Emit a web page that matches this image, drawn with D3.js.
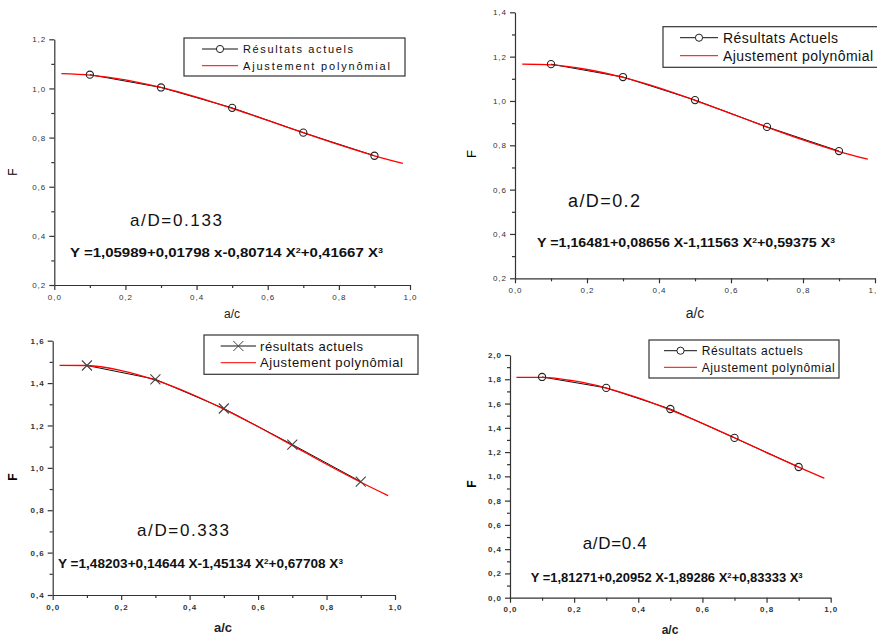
<!DOCTYPE html>
<html>
<head>
<meta charset="utf-8">
<script src="https://cdn.jsdelivr.net/npm/d3@7"></script>
<style>
	body { margin: 0; background: #fff; }
	svg { display: block; font-family: Arial, "Liberation Sans", sans-serif; }
</style>
</head>
<body>
<script>
// a/c positions of the computed points, same for all four cases
const xValues = [0.1, 0.3, 0.5, 0.7, 0.9];
// sample positions
const fitX = [0.02, 0.1, 0.2, 0.3, 0.4, 0.5, 0.6, 0.7, 0.8, 0.9, 0.98];

const caseLabels = ["a/D=0.133", "a/D=0.2", "a/D=0.333", "a/D=0.4"];
const legendResults = ["Résultats actuels", "Résultats Actuels", "résultats actuels", "Résultats actuels"];
const legendFit = "Ajustement polynômial";

// equation pieces: [text, exponent]
const equations = [
	[["Y =1,05989+0,01798 x-0,80714 X", "2"], ["+0,41667 X", "3"]],
	[["Y =1,16481+0,08656 X-1,11563 X", "2"], ["+0,59375 X", "3"]],
	[["Y =1,48203+0,14644 X-1,45134 X", "2"], ["+0,67708 X", "3"]],
	[["Y =1,81271+0,20952 X-1,89286 X", "2"], ["+0,83333 X", "3"]]
];

const results133 = [1.056, 1.004, 0.921, 0.820, 0.726];
const results200 = [1.166, 1.108, 1.004, 0.883, 0.774];
const results333 = [1.483, 1.418, 1.280, 1.110, 0.935];
const results400 = [1.819, 1.729, 1.555, 1.317, 1.077];

const fit133 = [1.060, 1.054, 1.035, 1.004, 0.965, 0.919, 0.870, 0.820, 0.771, 0.726, 0.695];
const fit200 = [1.166, 1.163, 1.142, 1.106, 1.059, 1.003, 0.943, 0.882, 0.824, 0.772, 0.737];
const fit333 = [1.484, 1.483, 1.459, 1.414, 1.352, 1.277, 1.194, 1.106, 1.017, 0.932, 0.869];
const fit400 = [1.816, 1.816, 1.786, 1.728, 1.647, 1.548, 1.437, 1.318, 1.196, 1.076, 0.984];

const yDomains = [[0.2, 1.2], [0.2, 1.4], [0.4, 1.6], [0.0, 2.0]];

// layout of each panel (pixels)
const panels = [
	{ res: results133, fit: fit133, x0: 54.3, x1: 410, yTop: 39.3, yBot: 285, bold: false, marker: "circle",
	  leg: { x0: 184, y0: 38, x1: 405, y1: 76, r1: 49, r2: 65.7, l0: 202, l1: 238, tx: 243, fs: 11, w1: 110, w2: 147 },
	  lab: { x: 130, y: 226, fs: 17, w: 92 }, eq: { x: 70, y: 257, fs: 13, w: 313 },
	  F: { x: 17, y: 172, fs: 12 }, ac: { x: 232, y: 318, fs: 12 } },
	{ res: results200, fit: fit200, x0: 515, x1: 875, yTop: 12.3, yBot: 278.3, bold: false, marker: "circle",
	  leg: { x0: 663, y0: 26.7, x1: 882, y1: 67.3, r1: 37.7, r2: 55.7, l0: 680, l1: 718, tx: 723, fs: 14, w1: 115, w2: 150 },
	  lab: { x: 568, y: 207, fs: 18, w: 72 }, eq: { x: 537, y: 247, fs: 13, w: 298 },
	  F: { x: 476, y: 154, fs: 13 }, ac: { x: 695, y: 318, fs: 14 } },
	{ res: results333, fit: fit333, x0: 52.7, x1: 395, yTop: 340.7, yBot: 595, bold: true, marker: "cross",
	  leg: { x0: 204, y0: 335, x1: 418, y1: 374.3, r1: 346, r2: 362.7, l0: 220.7, l1: 256, tx: 260, fs: 13, w1: 103, w2: 143 },
	  lab: { x: 137, y: 536, fs: 17, w: 92 }, eq: { x: 58, y: 568, fs: 13, w: 285 },
	  F: { x: 17, y: 477, fs: 12 }, ac: { x: 223, y: 632, fs: 13 } },
	{ res: results400, fit: fit400, x0: 510, x1: 830.7, yTop: 355, yBot: 597.7, bold: true, marker: "circle",
	  leg: { x0: 649, y0: 340, x1: 839, y1: 378, r1: 350.7, r2: 367.3, l0: 664, l1: 697, tx: 701.7, fs: 12, w1: 101, w2: 133 },
	  lab: { x: 582.7, y: 549, fs: 17, w: 64 }, eq: { x: 530.7, y: 582, fs: 12, w: 272 },
	  F: { x: 476, y: 484, fs: 12 }, ac: { x: 670, y: 634, fs: 12 } }
];

const svg = d3.select("body").append("svg")
	.attr("width", 877)
	.attr("height", 637);

const fmt = d => d3.format(".1f")(d).replace(".", ",");

panels.forEach(function(p, i){
	const xScale = d3.scaleLinear().domain([0, 1]).range([p.x0, p.x1]);
	const yScale = d3.scaleLinear().domain(yDomains[i]).range([p.yBot, p.yTop]);
	const weight = p.bold ? "bold" : "normal";

	const g = svg.append("g");

	// y axis: minor ticks then major ticks with labels
	const yMajor = d3.range(yDomains[i][0], yDomains[i][1] + 0.001, 0.2);
	const yMinor = d3.range(yDomains[i][0] + 0.1, yDomains[i][1], 0.2);
	g.append("g")
		.attr("transform", `translate(${p.x0},0)`)
		.call(d3.axisLeft(yScale).tickValues(yMinor).tickSize(3).tickFormat(""))
		.call(a => a.select(".domain").remove());
	g.append("g")
		.attr("transform", `translate(${p.x0},0)`)
		.call(d3.axisLeft(yScale).tickValues(yMajor).tickSize(5).tickSizeOuter(0).tickPadding(3).tickFormat(fmt));

	const xMajor = d3.range(0, 1.001, 0.2);
	const xMinor = d3.range(0.1, 1, 0.2);
	g.append("g")
		.attr("transform", `translate(0,${p.yBot})`)
		.call(d3.axisBottom(xScale).tickValues(xMinor).tickSize(3).tickFormat(""))
		.call(a => a.select(".domain").remove());
	g.append("g")
		.attr("transform", `translate(0,${p.yBot})`)
		.call(d3.axisBottom(xScale).tickValues(xMajor).tickSize(5).tickSizeOuter(0).tickPadding(4).tickFormat(fmt));

	g.selectAll(".domain, .tick line").attr("stroke", "#333").attr("stroke-width", 1.2);
	g.selectAll(".tick text")
		.attr("fill", "#333")
		.style("font-size", "8px")
		.style("font-weight", weight)
		.style("letter-spacing", "1px")
		.style("font-family", "Arial, 'Liberation Sans', sans-serif");

	// axis titles
	g.append("text")
		.attr("transform", `translate(${p.F.x},${p.F.y}) rotate(-90)`)
		.attr("text-anchor", "middle")
		.style("font-size", p.F.fs + "px")
		.style("font-weight", weight)
		.text("F");
	g.append("text")
		.attr("x", p.ac.x)
		.attr("y", p.ac.y)
		.attr("text-anchor", "middle")
		.style("font-size", p.ac.fs + "px")
		.style("font-weight", weight)
		.attr("fill", "#222")
		.text("a/c");

	// computed points joined by a black line, fitted curve in red on top
	const pts = xValues.map((x, k) => [x, p.res[k]]);
	const line = d3.line().x(d => xScale(d[0])).y(d => yScale(d[1]));
	g.append("path")
		.attr("d", line(pts))
		.attr("fill", "none")
		.attr("stroke", "#111")
		.attr("stroke-width", 1);

	const fitPts = fitX.map((x, k) => [x, p.fit[k]]);
	g.append("path")
		.attr("d", line.curve(d3.curveMonotoneX)(fitPts))
		.attr("fill", "none")
		.attr("stroke", "#ff0000")
		.attr("stroke-width", 1.3);

	if(p.marker == "circle"){
		g.selectAll("circle.pt")
			.data(pts)
			.enter()
			.append("circle")
				.attr("cx", d => xScale(d[0]))
				.attr("cy", d => yScale(d[1]))
				.attr("r", 3.6)
				.attr("fill", "none")
				.attr("stroke", "#222")
				.attr("stroke-width", 1.1);
	}else{
		g.selectAll("path.pt")
			.data(pts)
			.enter()
			.append("path")
				.attr("transform", d => `translate(${xScale(d[0])},${yScale(d[1])})`)
				.attr("d", "M-5,-5L5,5M-5,5L5,-5")
				.attr("stroke", "#444")
				.attr("stroke-width", 1.1);
	}

	// legend
	const L = p.leg;
	g.append("rect")
		.attr("x", L.x0)
		.attr("y", L.y0)
		.attr("width", L.x1 - L.x0)
		.attr("height", L.y1 - L.y0)
		.attr("fill", "#fff")
		.attr("stroke", "#333")
		.attr("stroke-width", 1.2);
	g.append("line")
		.attr("x1", L.l0).attr("x2", L.l1)
		.attr("y1", L.r1).attr("y2", L.r1)
		.attr("stroke", "#111");
	if(p.marker == "circle"){
		g.append("circle")
			.attr("cx", (L.l0 + L.l1) / 2)
			.attr("cy", L.r1)
			.attr("r", 3.6)
			.attr("fill", "#fff")
			.attr("stroke", "#222");
	}else{
		g.append("path")
			.attr("transform", `translate(${(L.l0 + L.l1) / 2},${L.r1})`)
			.attr("d", "M-5,-5L5,5M-5,5L5,-5")
			.attr("stroke", "#444");
	}
	g.append("line")
		.attr("x1", L.l0).attr("x2", L.l1)
		.attr("y1", L.r2).attr("y2", L.r2)
		.attr("stroke", "#ff0000");
	[[legendResults[i], L.r1, L.w1], [legendFit, L.r2, L.w2]].forEach(function(t){
		g.append("text")
			.attr("x", L.tx)
			.attr("y", t[1])
			.attr("dy", "0.35em")
			.attr("textLength", t[2])
			.attr("lengthAdjust", "spacing")
			.style("font-size", L.fs + "px")
			.attr("fill", "#111")
			.text(t[0]);
	});

	// a/D label
	g.append("text")
		.attr("x", p.lab.x)
		.attr("y", p.lab.y)
		.attr("textLength", p.lab.w)
		.attr("lengthAdjust", "spacing")
		.style("font-size", p.lab.fs + "px")
		.attr("fill", "#111")
		.text(caseLabels[i]);

	// polynomial equation, exponents raised with baseline-shift
	const eq = g.append("text")
		.attr("x", p.eq.x)
		.attr("y", p.eq.y)
		.attr("textLength", p.eq.w)
		.attr("lengthAdjust", "spacingAndGlyphs")
		.style("font-size", p.eq.fs + "px")
		.style("font-weight", "bold")
		.attr("fill", "#111");
	equations[i].forEach(function(part){
		eq.append("tspan").text(part[0]);
		eq.append("tspan")
			.attr("baseline-shift", "super")
			.style("font-size", (p.eq.fs * 0.6) + "px")
			.text(part[1]);
	});
});
</script>
</body>
</html>
